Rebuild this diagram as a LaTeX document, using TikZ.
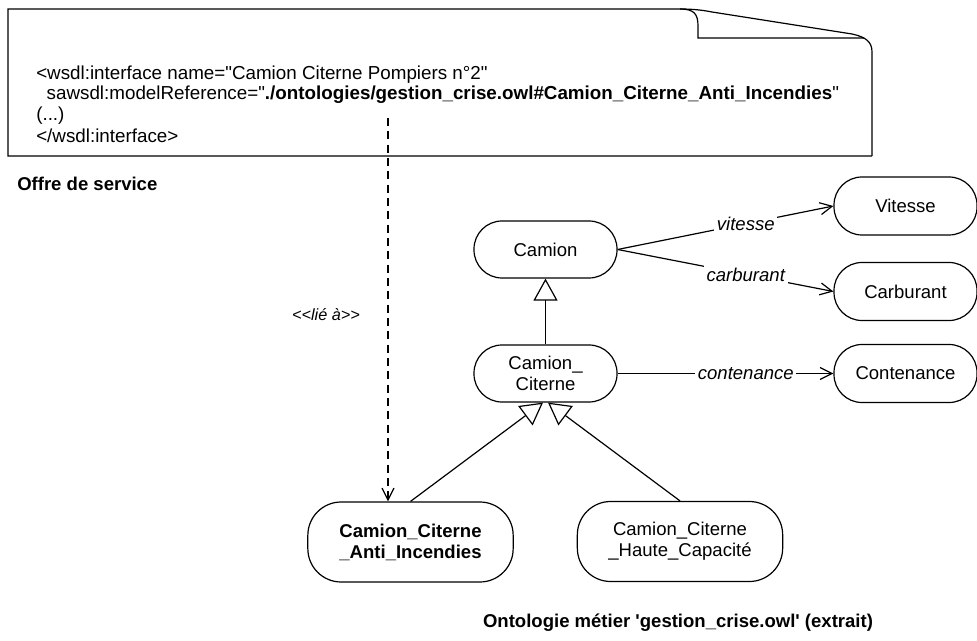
\documentclass[tikz,border=0pt]{standalone}
\usepackage{fontspec}
\setmainfont{Liberation Sans}[Ligatures=TeXOff]
\usetikzlibrary{arrows.meta,calc}
\begin{document}
\begin{tikzpicture}[x=0.75pt,y=-0.75pt,
  txt/.style={font=\fontsize{14.1}{15.4}\selectfont,inner sep=0pt},
  cls/.style={draw,line width=0.9pt,rounded corners=21pt,align=center,inner sep=0pt,
    minimum width=107.25pt,minimum height=42.75pt,font=\fontsize{13.9}{15.75}\selectfont},
  bigcls/.style={cls,minimum width=154pt,minimum height=60pt,rounded corners=25pt},
  rel/.style={line width=0.9pt,-{Straight Barb[length=9pt,width=9pt,line width=0.9pt]}},
  gen/.style={line width=0.9pt,-{Triangle[open,length=16.5pt,width=18pt,line width=0.9pt]}},
  lbl/.style={fill=white,font=\fontsize{13.9}{15.75}\selectfont\itshape,inner sep=2pt},
  dep/.style={line width=0.9pt,dash pattern=on 6pt off 4pt,-{Straight Barb[length=9pt,width=9pt,line width=0.9pt]}}]
\useasboundingbox (0,0) rectangle (977,641);

% document shape
\draw[line width=0.9pt] (872,156) -- (8,156) -- (8,9) -- (680,9)
  .. controls (694,9) and (698,14) .. (698,26) -- (698,38) -- (864,38);
\draw[line width=0.9pt] (680,9) .. controls (692,9) and (702,10) .. (712,12)
  -- (852,34) .. controls (866,37) and (872,42) .. (872,52) -- (872,156);

\node[txt,anchor=west] (l1) at (36,74.5) {<wsdl:interface name="Camion Citerne Pompiers n°2"};
\node[txt,anchor=west] (l2) at (36,95) {\ \ sawsdl:modelReference="\textbf{./ontologies/gestion\_crise.owl\#Camion\_Citerne\_Anti\_Incendies}"};
\node[txt,anchor=west] (l3) at (36,115.5) {(...)};
\node[txt,anchor=west] (l4) at (36,136) {</wsdl:interface>};

\node[txt,anchor=west,font=\fontsize{13.9}{15.4}\selectfont\bfseries] (offre) at (17,184) {Offre de service};
\node[txt,font=\fontsize{13.9}{15.4}\selectfont\bfseries] (onto) at (678,623) {Ontologie métier 'gestion\_crise.owl' (extrait)};

% classes
\node[cls] (camion) at (545.5,249.5) {Camion};
\node[cls] (citerne) at (545.5,373.5) {Camion\_\\Citerne};
\node[cls,minimum height=43.5pt] (vitesse) at (905.5,206) {Vitesse};
\node[cls,minimum height=43.5pt] (carburant) at (905.5,291.5) {Carburant};
\node[cls,minimum height=43.5pt] (contenance) at (905.5,373.5) {Contenance};
\node[bigcls,font=\fontsize{13.9}{15.75}\selectfont\bfseries] (anti) at (410.5,542) {Camion\_Citerne\\\_Anti\_Incendies};
\node[bigcls] (haute) at (680,541.5) {Camion\_Citerne\\\_Haute\_Capacité};

% relations
\draw[rel] (camion.east) -- node[lbl,pos=0.594] (lv) {vitesse} (vitesse.west);
\draw[rel] (camion.east) -- node[lbl,pos=0.594] (lc) {carburant} (carburant.west);
\draw[rel] (citerne.east) -- node[lbl,pos=0.594] (lco) {contenance} (contenance.west);

% generalisations
\draw[gen] (citerne.north) -- (camion.south);
\draw[gen] (anti.north) -- ($(citerne.south)+(-2.5,0)$);
\draw[gen] (haute.north) -- ($(citerne.south)+(2.5,0)$);

% dependency
\coordinate (ds) at (388,118);
\draw[dep] (ds) -- (ds |- anti.north);
\node[font=\fontsize{12.2}{14}\selectfont\itshape,inner sep=0pt] (lie) at (326,315) {<<lié à>>};
\end{tikzpicture}
\end{document}
